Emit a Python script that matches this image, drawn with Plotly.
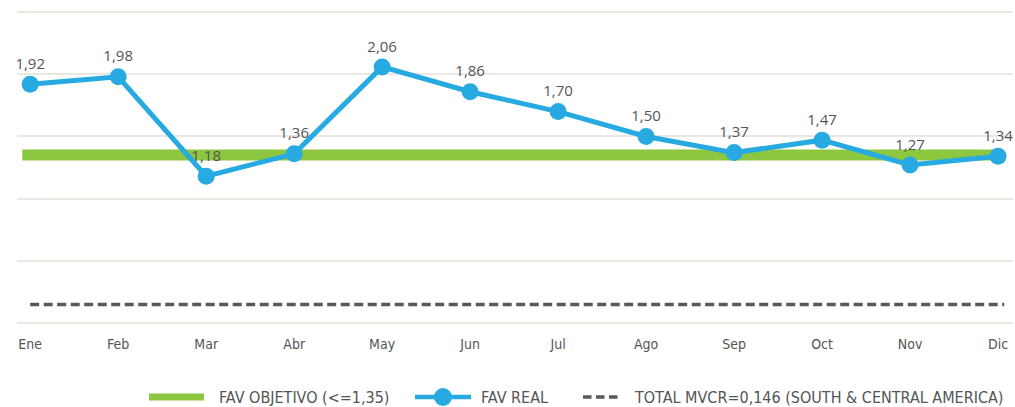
import plotly.graph_objects as go

months = ["Ene", "Feb", "Mar", "Abr", "May", "Jun", "Jul", "Ago", "Sep", "Oct", "Nov", "Dic"]
fav_real = [1.92, 1.98, 1.18, 1.36, 2.06, 1.86, 1.70, 1.50, 1.37, 1.47, 1.27, 1.34]
fav_objetivo = 1.35
total_mvcr = 0.146

name_obj = "FAV OBJETIVO (<=1,35)"
name_real = "FAV REAL"
name_mvcr = "TOTAL MVCR=0,146 (SOUTH & CENTRAL AMERICA)"

xi = list(range(len(months)))
labels = [f"{v:.2f}".replace(".", ",") for v in fav_real]

cond = "Liberation Sans Narrow, DejaVu Sans Condensed, Roboto, sans-serif"
GREEN = "#8dc63f"
BLUE = "#27aae1"
GREY = "#58595b"
TXT = "#555555"

W, H = 1015, 407
ML, MR, MT, MB = 17, 2, 11, 83
PW, PH = W - ML - MR, H - MT - MB


def px(x):
    return (x - ML) / PW


def py(y):
    return (H - MB - y) / PH


fig = go.Figure()
fig.add_trace(go.Scatter(
    x=[xi[0] - 0.09, xi[-1] + 0.03], y=[fav_objetivo, fav_objetivo],
    mode="lines", name=name_obj,
    line=dict(color=GREEN, width=11),
))
fig.add_trace(go.Scatter(
    x=xi, y=fav_real, mode="lines+markers+text", name=name_real,
    line=dict(color=BLUE, width=5),
    marker=dict(color=BLUE, size=17),
    text=labels, textposition="top center",
    textfont=dict(family="Open Sans, sans-serif", size=15, color=TXT),
))
fig.add_trace(go.Scatter(
    x=[xi[0], xi[-1] + 0.07], y=[total_mvcr, total_mvcr],
    mode="lines", name=name_mvcr,
    line=dict(color=GREY, width=3.5, dash="9px,4.5px"),
))

# custom legend (drawn in paper coordinates)
ly = py(397)
shapes = [
    dict(type="line", xref="paper", yref="paper", x0=px(149), x1=px(204), y0=ly, y1=ly,
         line=dict(color=GREEN, width=7)),
    dict(type="line", xref="paper", yref="paper", x0=px(415), x1=px(471), y0=ly, y1=ly,
         line=dict(color=BLUE, width=4.5)),
    dict(type="circle", xref="paper", yref="paper", xsizemode="pixel", ysizemode="pixel",
         xanchor=px(443), yanchor=ly, x0=-9, x1=9, y0=-9, y1=9,
         fillcolor=BLUE, line=dict(width=0)),
    dict(type="line", xref="paper", yref="paper", x0=px(583), x1=px(619), y0=ly, y1=ly,
         line=dict(color=GREY, width=3.5, dash="8.5px,4.5px")),
]
annotations = [
    dict(text=t, xref="paper", yref="paper", x=px(xpos), y=ly, xanchor="left", yanchor="middle",
         showarrow=False, font=dict(family=cond, size=16, color=TXT), borderpad=0)
    for t, xpos in [(name_obj, 218), (name_real, 480), (name_mvcr, 633)]
]

fig.update_layout(
    width=W, height=H,
    margin=dict(l=ML, r=MR, t=MT, b=MB),
    paper_bgcolor="white", plot_bgcolor="white",
    showlegend=False,
    shapes=shapes, annotations=annotations,
    xaxis=dict(
        range=[-0.15, 11.17], tickmode="array", tickvals=xi, ticktext=months,
        showgrid=False, zeroline=False, showline=False,
        tickfont=dict(family=cond, size=14, color=TXT),
        ticks="", ticklabelstandoff=10,
    ),
    yaxis=dict(
        range=[-0.01, 2.51], tickmode="array", tickvals=[0, 0.5, 1.0, 1.5, 2.0, 2.5],
        showticklabels=False,
        gridcolor="#ebe7e3", gridwidth=2, zeroline=False, showline=False,
    ),
)

fig.write_html("out.html", config={"displayModeBar": False},
               post_script="document.body.style.margin='0';")
